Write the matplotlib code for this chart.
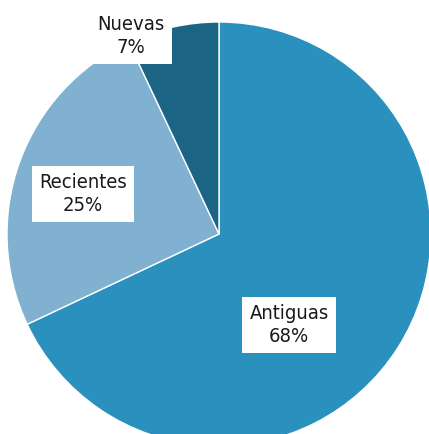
import matplotlib
matplotlib.use('Agg')
import matplotlib.pyplot as plt

# data
labels = ['Antiguas', 'Recientes', 'Nuevas']
shares = [68, 25, 7]
colors = ['#2a90bd', '#80b1d1', '#1b6483']

# label anchors in pixel coords (from top-left)
label_pos = [(289, 325), (83, 194), (131, 36)]

W, H = 429, 434
fig = plt.figure(figsize=(W / 100, H / 100), dpi=100)
ax = fig.add_axes([0, 0, 1, 1])
ax.axis('off')

ax.pie(shares, colors=colors, startangle=90, counterclock=False,
       center=(219, H - 234), radius=212,
       wedgeprops=dict(edgecolor='white', linewidth=1))
ax.set_xlim(0, W)
ax.set_ylim(0, H)
ax.set_aspect('equal')

for lab, val, (x, y) in zip(labels, shares, label_pos):
    ax.text(x, H - y, f'{lab}\n{val}%', ha='center', va='center',
            fontsize=14.5, family='DejaVu Sans', stretch='condensed',
            color='#1a1a1a', linespacing=1.25,
            bbox=dict(facecolor='white', edgecolor='none', boxstyle='square,pad=0.35'))

fig.savefig('out.png', dpi=100)
